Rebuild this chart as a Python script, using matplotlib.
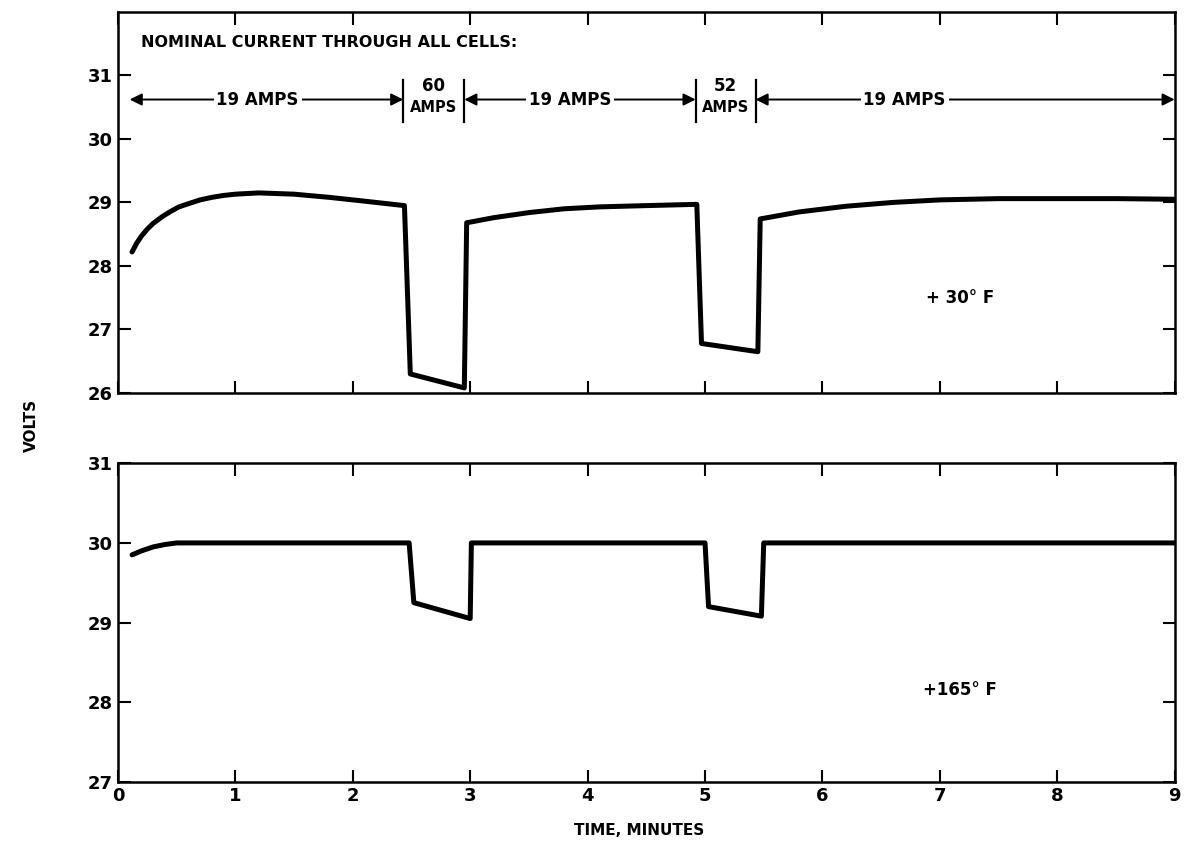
import matplotlib
matplotlib.use("Agg")
import matplotlib.pyplot as plt
import numpy as np

# ---------------- datos ----------------
# panel superior (+30 F)
t_frio = [0.12, 0.16, 0.2, 0.25, 0.3, 0.38, 0.45, 0.52, 0.6, 0.7, 0.8, 0.9, 1.0, 1.2, 1.5, 1.8, 2.1, 2.44,
          2.49, 2.95, 2.97, 3.2, 3.5, 3.8, 4.1, 4.5, 4.93,
          4.97, 5.45, 5.47, 5.8, 6.2, 6.6, 7.0, 7.5, 8.0, 8.5, 9.0]
v_frio = [28.22, 28.36, 28.47, 28.58, 28.67, 28.78, 28.86, 28.93, 28.98, 29.04, 29.08, 29.11, 29.13, 29.15,
          29.13, 29.08, 29.02, 28.95,
          26.3, 26.08, 28.68, 28.76, 28.84, 28.9, 28.93, 28.95, 28.97,
          26.78, 26.65, 28.74, 28.85, 28.94, 29.0, 29.04, 29.06, 29.06, 29.06, 29.05]

# panel inferior (+165 F)
t_cal = [0.12, 0.2, 0.3, 0.4, 0.5, 1.0, 2.0, 2.48, 2.52, 3.0, 3.01, 4.0, 5.0,
         5.03, 5.48, 5.5, 7.0, 9.0]
v_cal = [29.85, 29.9, 29.95, 29.98, 30.0, 30.0, 30.0, 30.0, 29.25, 29.05, 30.0, 30.0, 30.0,
         29.2, 29.08, 30.0, 30.0, 30.0]

# tramos de corriente nominal
limites = [0.1, 2.43, 2.95, 4.92, 5.43, 9.0]
etiquetas_19 = ["19 AMPS", "19 AMPS", "19 AMPS"]
pos_19 = [1.19, 3.85, 6.7]
picos = ["60", "52"]

x_ticks = [0, 1, 2, 3, 4, 5, 6, 7, 8, 9]
y_ticks_sup = [26, 27, 28, 29, 30, 31]
y_ticks_inf = [27, 28, 29, 30, 31]

plt.rcParams['font.family'] = ['DejaVu Sans']
plt.rcParams['font.weight'] = 'bold'

fig = plt.figure(figsize=(11.95, 8.47), dpi=100)
ax1 = fig.add_axes([0.0987, 0.536, 0.8843, 0.450])
ax2 = fig.add_axes([0.0987, 0.077, 0.8843, 0.376])


def formato(ax, yt, ylim):
    ax.set_xlim(0, 9)
    ax.set_ylim(*ylim)
    ax.set_xticks(x_ticks)
    ax.set_yticks(yt)
    ax.tick_params(direction='in', length=9, width=1.5, top=True, right=True,
                   labelsize=13, pad=4)
    for s in ax.spines.values():
        s.set_linewidth(1.8)


# dibuja las curvas
ax1.plot(t_frio, v_frio, color='black', lw=3.6, solid_joinstyle='round', solid_capstyle='round')
ax2.plot(t_cal, v_cal, color='black', lw=3.6, solid_joinstyle='round', solid_capstyle='round')

formato(ax1, y_ticks_sup, (26, 32))
ax1.tick_params(labelbottom=False)
formato(ax2, y_ticks_inf, (27, 31))

# anotaciones de corriente
y_flecha = 30.62
ax1.text(0.2, 31.52, "NOMINAL CURRENT THROUGH ALL CELLS:", fontsize=11.5, va='center', ha='left')
for i in range(3):
    a = limites[2 * i]
    b = limites[2 * i + 1]
    ax1.annotate('', xy=(b, y_flecha), xytext=(a, y_flecha),
                 arrowprops=dict(arrowstyle='<|-|>', color='black', lw=1.4,
                                 mutation_scale=18, shrinkA=0, shrinkB=0))
    ax1.text(pos_19[i], y_flecha, etiquetas_19[i], fontsize=12, ha='center', va='center',
             bbox=dict(facecolor='white', edgecolor='none', pad=2), zorder=5)

for x in limites[1:5]:
    ax1.plot([x, x], [30.26, 30.92], color='black', lw=1.6)

for i in range(2):
    xc = (limites[2 * i + 1] + limites[2 * i + 2]) / 2
    ax1.text(xc, 30.84, picos[i], fontsize=12, ha='center', va='center')
    ax1.text(xc, 30.5, "AMPS", fontsize=10.5, ha='center', va='center')

ax1.text(7.17, 27.5, "+ 30° F", fontsize=12, ha='center', va='center')
ax2.text(7.17, 28.15, "+165° F", fontsize=12, ha='center', va='center')

fig.text(0.026, 0.498, "VOLTS", rotation=90, fontsize=11, ha='center', va='center')
fig.text(0.535, 0.02, "TIME, MINUTES", fontsize=11, ha='center', va='center')

fig.savefig("out.png", dpi=100)
